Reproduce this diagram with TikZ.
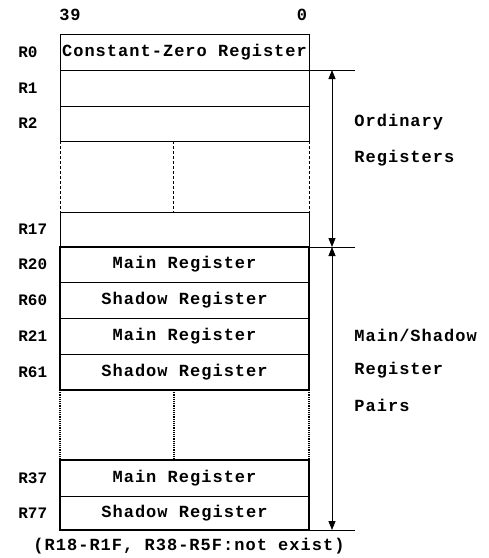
\documentclass[tikz,border=0pt]{standalone}
\usepackage{fontspec}
\setmonofont{Liberation Mono}
\newfontfamily\regfont{Liberation Mono}[LetterSpace=6]
\usetikzlibrary{arrows.meta,calc}

\tikzset{
  regtext/.style={font=\regfont\bfseries\fontsize{17}{17}\selectfont, inner sep=0pt},
  rowlabel/.style={font=\ttfamily\bfseries\fontsize{16}{16}\selectfont, anchor=west, inner sep=0pt},
  sidetext/.style={regtext, anchor=west},
  span/.style={{Triangle[width=7pt,length=9pt]}-{Triangle[width=7pt,length=9pt]}, line width=0.8pt},
}

\begin{document}
\begin{tikzpicture}[x=1pt,y=-1pt,line width=0.8pt]
    \useasboundingbox (0,0) rectangle (489,558);

    % bit numbers
    \node[regtext] (msb) at (70,15) {39};
    \node[regtext] (lsb) at (302,15) {0};

    % ordinary registers
    \draw (60,34) rectangle node[regtext] (tR0) {Constant-Zero Register} (309,70);
    \node[rowlabel] (lR0) at (18,52) {R0};
    \foreach \t/\b/\n in {
        70/106/R1,
        106/141/R2,
        212/247/R17}{
      \draw (60,\t) rectangle (309,\b);
      \node[rowlabel] (l\n) at (18,{(\t+\b)/2}) {\n};
    }
    \draw[densely dashed] (60,141) -- (60,212) (173,141) -- (173,212) (309,141) -- (309,212);

    % main/shadow register pairs
    \foreach \t/\b/\n/\s in {
        247/282/R20/Main,
        282/318/R60/Shadow,
        318/354/R21/Main,
        354/390/R61/Shadow,
        460/496/R37/Main,
        496/530/R77/Shadow}{
      \draw (60,\t) rectangle node[regtext] (t\n) {\s\ Register} (309,\b);
      \node[rowlabel] (l\n) at (18,{(\t+\b)/2}) {\n};
    }
    \draw[line width=2pt] (60,247) rectangle (309,390);
    \draw[line width=2pt] (60,460) rectangle (309,530);
    \draw[densely dotted,line width=1.2pt] (60,390) -- (60,460) (174,390) -- (174,460) (309,390) -- (309,460);

    \node[regtext] (note) at (189,546) {(R18-R1F, R38-R5F:not exist)};

    % dimension lines
    \coordinate (topL) at (309,70);
    \coordinate (topR) at (355,70);
    \coordinate (midL) at (309,247);
    \coordinate (midR) at (355,247);
    \coordinate (botL) at (309,530);
    \coordinate (botR) at (355,530);
    \draw (topL) -- (topR);
    \draw (midL) -- (midR);
    \draw (botL) -- (botR);
    \draw[span] ($(topL)!.5!(topR)$) -- ($(midL)!.5!(midR)$);
    \draw[span] ($(midL)!.5!(midR)$) -- ($(botL)!.5!(botR)$);

    \node[sidetext] (ord1) at (354,122) {Ordinary};
    \node[sidetext] (ord2) at (354,158) {Registers};
    \node[sidetext] (pair1) at (354,335) {Main/Shadow};
    \node[sidetext] (pair2) at (354,370) {Register};
    \node[sidetext] (pair3) at (354,405) {Pairs};
\end{tikzpicture}
\end{document}
